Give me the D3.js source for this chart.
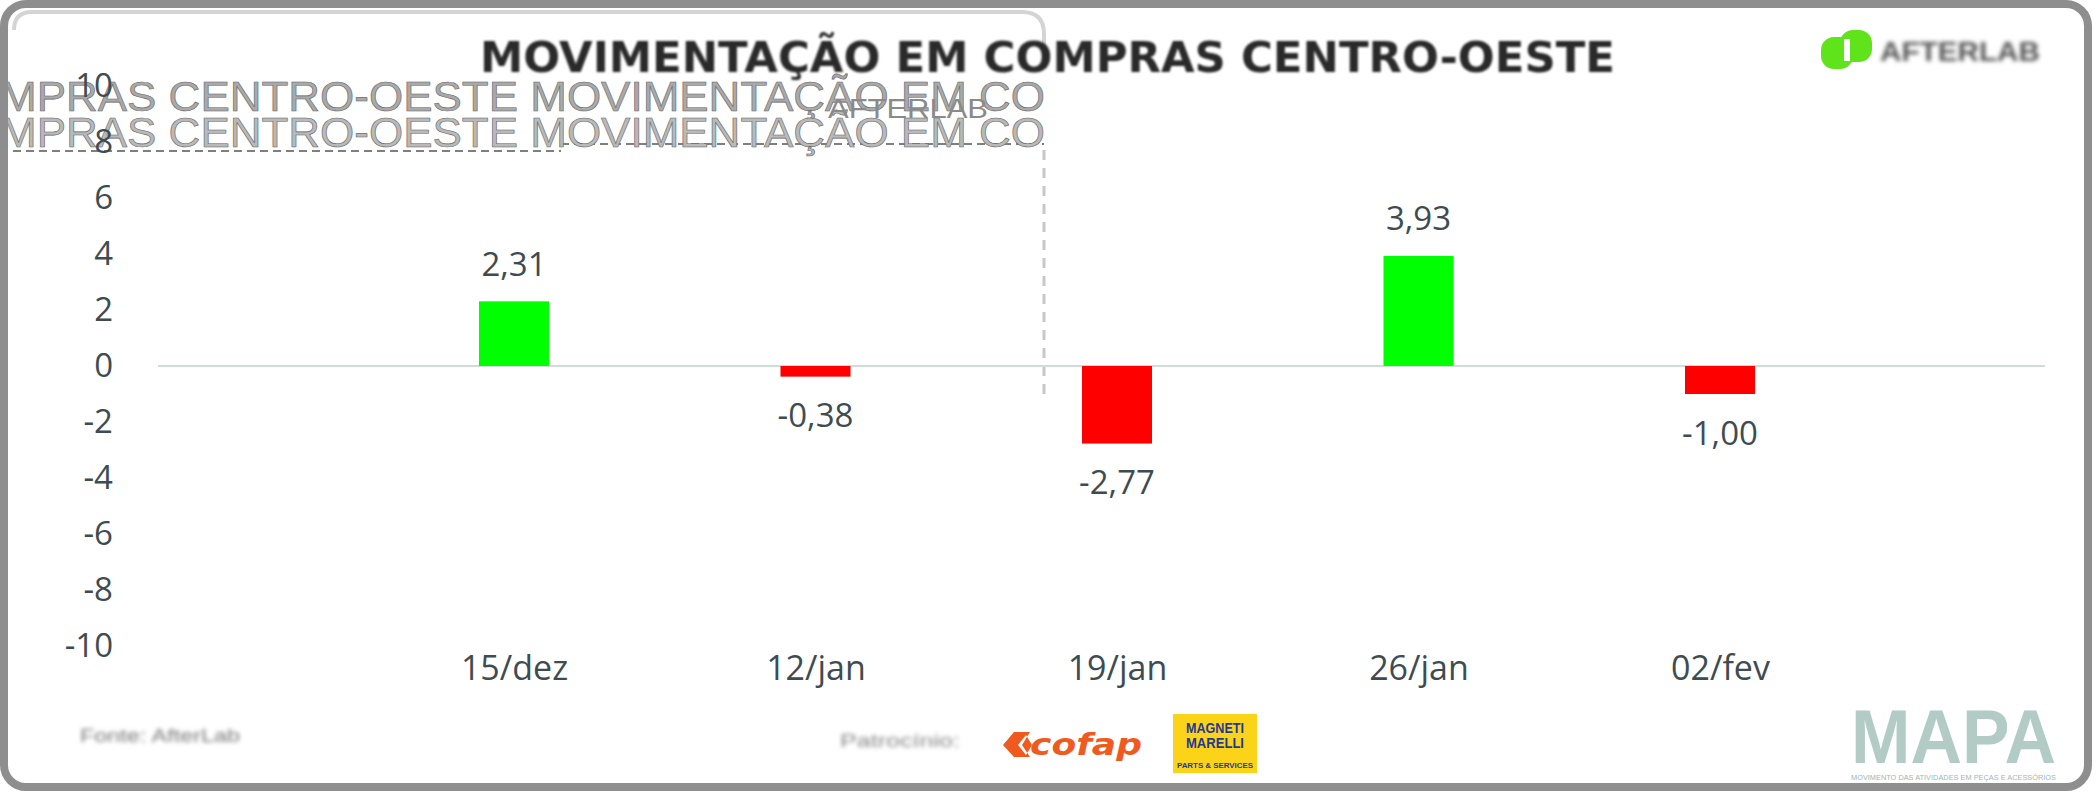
<!DOCTYPE html>
<html>
<head>
<meta charset="utf-8">
<script src="https://cdn.jsdelivr.net/npm/d3@7"></script>
<style>
  body { margin: 0; background: #fff; }
  svg { display: block; }
  .tick text { font-family: "Open Sans", sans-serif; fill: #3e4c52; }
</style>
</head>
<body>
<script>
// Chart data
var categories = ['15/dez', '12/jan', '19/jan', '26/jan', '02/fev'];
var values = [2.31, -0.38, -2.77, 3.93, -1.00];
var yTicks = [10, 8, 6, 4, 2, 0, -2, -4, -6, -8, -10];
var title = 'MOVIMENTAÇÃO EM COMPRAS CENTRO-OESTE';

var width = 2096,
    height = 793;

// pt-BR numbers, plain hyphen for negatives like the original
var ptBr = d3.formatLocale({decimal: ',', thousands: '.', grouping: [3], currency: ['R$', ''], minus: '-'});
var fmt = ptBr.format('.2f');

var svg = d3.select('body').append('svg')
    .attr('width', width)
    .attr('height', height);

var defs = svg.append('defs');
defs.append('filter').attr('id', 'blur1')
  .append('feGaussianBlur').attr('stdDeviation', 1.1);
defs.append('filter').attr('id', 'blur2')
  .append('feGaussianBlur').attr('stdDeviation', 2.2);

svg.append('rect').attr('width', width).attr('height', height).attr('fill', '#fff');

// scales
var y = d3.scaleLinear().domain([-10, 10]).range([646, 86]);
var x = d3.scalePoint().domain(categories).range([514, 1720]);
var barW = 70;

// glitchy overlay left over in the picture
var ov = svg.append('g').attr('class', 'overlay');
ov.append('path')
  .attr('d', 'M14,30 Q14,12 32,12 L1022,12 Q1044,12 1044,34 L1044,60')
  .attr('fill', 'none').attr('stroke', '#d4d4d4').attr('stroke-width', 4);
ov.append('line')
  .attr('x1', 1044).attr('x2', 1044).attr('y1', 150).attr('y2', 400)
  .attr('stroke', '#c8c8c8').attr('stroke-width', 3).attr('stroke-dasharray', '10,8');
ov.append('line')
  .attr('x1', 0).attr('x2', 561).attr('y1', 151).attr('y2', 151)
  .attr('stroke', '#555').attr('stroke-width', 1.5).attr('stroke-dasharray', '8,5');
ov.append('line')
  .attr('x1', 561).attr('x2', 1044).attr('y1', 144).attr('y2', 144)
  .attr('stroke', '#555').attr('stroke-width', 1.5).attr('stroke-dasharray', '8,5');
[111, 147].forEach(function(b, i) {
  ov.append('text')
    .attr('x', 0).attr('y', b)
    .attr('textLength', 1045).attr('lengthAdjust', 'spacingAndGlyphs')
    .style('font-family', 'Liberation Sans, sans-serif')
    .style('font-size', '42px')
    .attr('fill', i === 0 ? '#a9a9a9' : '#b9b9b9')
    .attr('stroke', '#666').attr('stroke-width', 0.6)
    .text('MPRAS CENTRO-OESTE MOVIMENTAÇÃO EM CO');
});
ov.append('text')
  .attr('x', 828).attr('y', 118)
  .attr('textLength', 160).attr('lengthAdjust', 'spacingAndGlyphs')
  .style('font-family', 'Liberation Sans, sans-serif')
  .style('font-size', '28px')
  .attr('fill', '#8a8a8a')
  .text('AFTERLAB');

// frame
svg.append('rect')
  .attr('x', 4).attr('y', 4)
  .attr('width', 2084).attr('height', 783)
  .attr('rx', 22)
  .attr('fill', 'none')
  .attr('stroke', '#8e8e8e')
  .attr('stroke-width', 8);

// title
svg.append('text')
  .attr('x', 480).attr('y', 72)
  .attr('textLength', 1135).attr('lengthAdjust', 'spacingAndGlyphs')
  .attr('filter', 'url(#blur1)')
  .style('font-family', 'DejaVu Sans, sans-serif')
  .style('font-weight', 'bold')
  .style('font-size', '42px')
  .attr('fill', '#2a2a2a')
  .text(title);

// afterlab logo
var logo = svg.append('g').attr('class', 'logo');
logo.append('rect').attr('x', 1821).attr('y', 37).attr('width', 32).attr('height', 32).attr('rx', 13).attr('fill', '#5fe41b');
logo.append('rect').attr('x', 1840).attr('y', 30).attr('width', 32).attr('height', 32).attr('rx', 13).attr('fill', '#5fe41b');
logo.append('rect').attr('x', 1844).attr('y', 39).attr('width', 6).attr('height', 22).attr('fill', '#fff');
logo.append('text')
  .attr('x', 1880).attr('y', 61)
  .attr('textLength', 160).attr('lengthAdjust', 'spacingAndGlyphs')
  .attr('filter', 'url(#blur2)')
  .style('font-family', 'Liberation Sans, sans-serif')
  .style('font-weight', 'bold')
  .style('font-size', '28px')
  .attr('fill', '#555')
  .text('AFTERLAB');

// y axis
var yAxis = svg.append('g')
  .attr('transform', 'translate(113,0)')
  .call(d3.axisLeft(y).tickValues(yTicks).tickSize(0).tickPadding(0)
    .tickFormat(function(d) { return String(d); }));
yAxis.select('.domain').remove();
yAxis.selectAll('text').style('font-size', '33px');

// zero line
svg.append('line')
  .attr('x1', 158).attr('x2', 2045)
  .attr('y1', y(0)).attr('y2', y(0))
  .attr('stroke', '#cfdcd8')
  .attr('stroke-width', 2);

// x axis labels
var xAxis = svg.append('g')
  .attr('transform', 'translate(0,' + y(-10) + ')')
  .call(d3.axisBottom(x).tickSize(0).tickPadding(10));
xAxis.select('.domain').remove();
xAxis.selectAll('text').style('font-size', '34px');

// bars
svg.append('g').attr('class', 'bars')
  .selectAll('rect')
    .data(values)
  .enter().append('rect')
  .attr('x', function(d, i) { return x(categories[i]) - barW / 2; })
  .attr('y', function(d) { return y(Math.max(0, d)); })
  .attr('width', barW)
  .attr('height', function(d) { return Math.abs(y(d) - y(0)); })
  .attr('fill', function(d) { return d >= 0 ? '#00ff00' : '#ff0000'; });

// value labels
svg.append('g').attr('class', 'labels')
  .selectAll('text')
    .data(values)
  .enter().append('text')
  .attr('x', function(d, i) { return x(categories[i]); })
  .attr('y', function(d) { return d >= 0 ? y(d) - 38 : y(d) + 38; })
  .attr('text-anchor', 'middle')
  .attr('dominant-baseline', 'central')
  .style('font-family', 'Open Sans, sans-serif')
  .style('font-size', '33px')
  .attr('fill', '#3e4c52')
  .text(function(d) { return fmt(d); });

// footer
var foot = svg.append('g').attr('class', 'footer');
foot.append('text')
  .attr('x', 80).attr('y', 742)
  .attr('textLength', 160).attr('lengthAdjust', 'spacingAndGlyphs')
  .attr('filter', 'url(#blur2)')
  .style('font-family', 'Liberation Sans, sans-serif')
  .style('font-size', '18px')
  .attr('fill', '#777')
  .text('Fonte: AfterLab');
foot.append('text')
  .attr('x', 840).attr('y', 747)
  .attr('textLength', 120).attr('lengthAdjust', 'spacingAndGlyphs')
  .attr('filter', 'url(#blur2)')
  .style('font-family', 'Liberation Sans, sans-serif')
  .style('font-size', '18px')
  .attr('fill', '#888')
  .text('Patrocínio:');

// cofap
foot.append('path')
  .attr('d', 'M1003,745 L1014,732 L1030,732 L1022,745 L1030,757 L1014,757 Z M1018,745 L1026,735 L1032,745 L1026,755 Z')
  .attr('fill', '#f05a1e').attr('fill-rule', 'evenodd');
foot.append('text')
  .attr('x', 1030).attr('y', 755)
  .attr('textLength', 112).attr('lengthAdjust', 'spacingAndGlyphs')
  .style('font-family', 'DejaVu Sans, sans-serif')
  .style('font-weight', 'bold')
  .style('font-style', 'italic')
  .style('font-size', '30px')
  .attr('fill', '#f05a1e')
  .text('cofap');

// magneti marelli
foot.append('rect')
  .attr('x', 1173).attr('y', 714).attr('width', 84).attr('height', 59)
  .attr('fill', '#fbd319');
foot.append('text')
  .attr('x', 1215).attr('y', 733).attr('text-anchor', 'middle')
  .attr('textLength', 58).attr('lengthAdjust', 'spacingAndGlyphs')
  .style('font-family', 'Liberation Sans Narrow, Liberation Sans, sans-serif')
  .style('font-weight', 'bold').style('font-size', '15px')
  .attr('fill', '#1f3a93').text('MAGNETI');
foot.append('text')
  .attr('x', 1215).attr('y', 748).attr('text-anchor', 'middle')
  .attr('textLength', 58).attr('lengthAdjust', 'spacingAndGlyphs')
  .style('font-family', 'Liberation Sans Narrow, Liberation Sans, sans-serif')
  .style('font-weight', 'bold').style('font-size', '15px')
  .attr('fill', '#1f3a93').text('MARELLI');
foot.append('text')
  .attr('x', 1215).attr('y', 768).attr('text-anchor', 'middle')
  .attr('textLength', 76).attr('lengthAdjust', 'spacingAndGlyphs')
  .style('font-family', 'Liberation Sans, sans-serif')
  .style('font-weight', 'bold').style('font-size', '7px')
  .attr('fill', '#1f3a93').text('PARTS & SERVICES');

// MAPA
foot.append('text')
  .attr('x', 1851).attr('y', 763)
  .attr('textLength', 205).attr('lengthAdjust', 'spacingAndGlyphs')
  .style('font-family', 'Liberation Sans Narrow, Liberation Sans, sans-serif')
  .style('font-weight', 'bold')
  .style('font-size', '76px')
  .attr('fill', '#b3cbc5')
  .text('MAPA');
foot.append('text')
  .attr('x', 1851).attr('y', 780)
  .attr('textLength', 205).attr('lengthAdjust', 'spacingAndGlyphs')
  .style('font-family', 'Liberation Sans, sans-serif')
  .style('font-size', '7px')
  .attr('fill', '#9fb6b0')
  .text('MOVIMENTO DAS ATIVIDADES EM PEÇAS E ACESSÓRIOS');
</script>
</body>
</html>
